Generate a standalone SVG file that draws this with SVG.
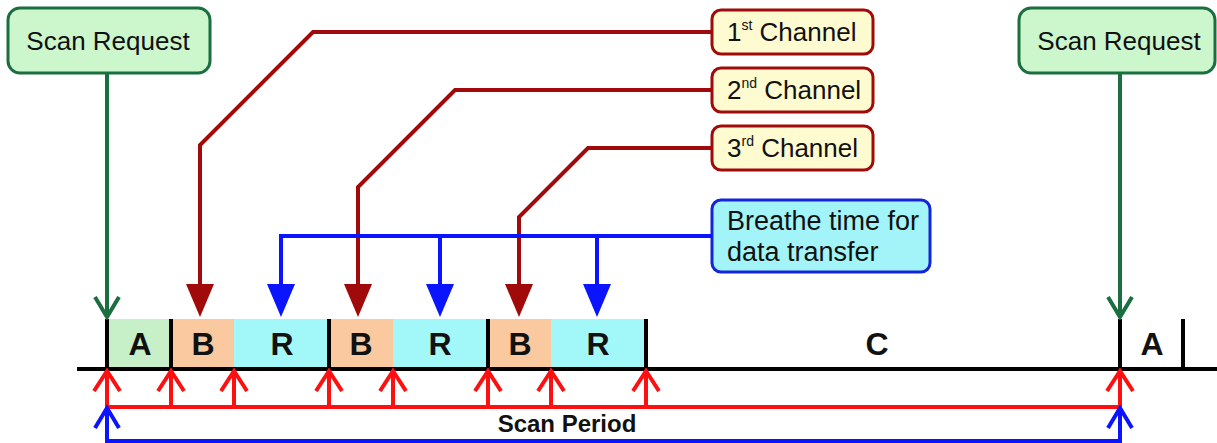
<svg xmlns="http://www.w3.org/2000/svg" width="1217" height="443" viewBox="0 0 1217 443">
<style>
text{font-family:"Liberation Sans",Arial,sans-serif;fill:#111}
.req rect{fill:#ccf6cc;stroke:#1b6e3f;stroke-width:3}
.ch rect{fill:#fefbd0;stroke:#a00a0a;stroke-width:3}
.br rect{fill:#a2f4f8;stroke:#1424d8;stroke-width:3}
.lbl{font-size:26px}
.seg{font-size:32px;font-weight:bold;text-anchor:middle}
.div{stroke:#000;stroke-width:4}
.cred{fill:none;stroke:#a00a0a;stroke-width:4}
.cblue{fill:none;stroke:#0a14ff;stroke-width:4}
.cgreen{fill:none;stroke:#1b6e3f;stroke-width:4}
.sred{fill:none;stroke:#ff1010;stroke-width:4}
.sblue{fill:none;stroke:#0a14ff;stroke-width:4}
</style>
<defs>
<marker id="triRed" markerUnits="userSpaceOnUse" viewBox="0 0 33 28" markerWidth="33" markerHeight="28" refX="21" refY="14" orient="auto"><path d="M0,0 L33,14 L0,28 z" fill="#a00a0a"/></marker>
<marker id="triBlue" markerUnits="userSpaceOnUse" viewBox="0 0 33 28" markerWidth="33" markerHeight="28" refX="21" refY="14" orient="auto"><path d="M0,0 L33,14 L0,28 z" fill="#0a14ff"/></marker>
<marker id="chGreen" markerUnits="userSpaceOnUse" viewBox="0 0 24 28" markerWidth="24" markerHeight="28" refX="21" refY="14" orient="auto"><path d="M1,2 L21,14 L1,26" fill="none" stroke="#1b6e3f" stroke-width="4"/></marker>
<marker id="chRed" markerUnits="userSpaceOnUse" viewBox="0 0 24 30" markerWidth="24" markerHeight="30" refX="21" refY="15" orient="auto"><path d="M1,2 L21,15 L1,28" fill="none" stroke="#ff1010" stroke-width="4"/></marker>
<marker id="chBlue" markerUnits="userSpaceOnUse" viewBox="0 0 24 28" markerWidth="24" markerHeight="28" refX="21" refY="14" orient="auto"><path d="M1,2 L21,14 L1,26" fill="none" stroke="#0a14ff" stroke-width="4"/></marker>
</defs>
<rect width="1217" height="443" fill="#fff"/>

<g id="timeline">
<rect x="107" y="319" width="64" height="49" fill="#c8f0c8"/>
<rect x="171" y="319" width="63" height="49" fill="#fbc99f"/>
<rect x="234" y="319" width="95" height="49" fill="#a2f8f8"/>
<rect x="329" y="319" width="64" height="49" fill="#fbc99f"/>
<rect x="393" y="319" width="95" height="49" fill="#a2f8f8"/>
<rect x="488" y="319" width="63" height="49" fill="#fbc99f"/>
<rect x="551" y="319" width="95" height="49" fill="#a2f8f8"/>
<line x1="77" y1="369" x2="1217" y2="369" class="div"/>
<line x1="107" y1="319" x2="107" y2="369" class="div"/>
<line x1="171" y1="319" x2="171" y2="369" class="div"/>
<line x1="329" y1="319" x2="329" y2="369" class="div"/>
<line x1="488" y1="319" x2="488" y2="369" class="div"/>
<line x1="646" y1="319" x2="646" y2="369" class="div"/>
<line x1="1120" y1="319" x2="1120" y2="369" class="div"/>
<line x1="1183" y1="319" x2="1183" y2="369" class="div"/>
<text class="seg" x="140" y="355">A</text>
<text class="seg" x="203" y="355">B</text>
<text class="seg" x="282" y="355">R</text>
<text class="seg" x="361" y="355">B</text>
<text class="seg" x="440" y="355">R</text>
<text class="seg" x="520" y="355">B</text>
<text class="seg" x="598" y="355">R</text>
<text class="seg" x="877" y="355">C</text>
<text class="seg" x="1152" y="355">A</text>
</g>

<g id="scanRequest1" class="req">
<rect x="8" y="8" width="202" height="65" rx="12"/>
<text class="lbl" x="108" y="50" text-anchor="middle">Scan Request</text>
</g>
<g id="scanRequest2" class="req">
<rect x="1019" y="8" width="196" height="65" rx="12"/>
<text class="lbl" x="1119" y="50" text-anchor="middle">Scan Request</text>
</g>
<g id="channel1" class="ch">
<rect x="712" y="10" width="161" height="44" rx="9"/>
<text class="lbl" x="727" y="41">1<tspan font-size="14" dy="-11">st</tspan><tspan dy="11"> Channel</tspan></text>
</g>
<g id="channel2" class="ch">
<rect x="712" y="68" width="161" height="44" rx="9"/>
<text class="lbl" x="727" y="99">2<tspan font-size="14" dy="-11">nd</tspan><tspan dy="11"> Channel</tspan></text>
</g>
<g id="channel3" class="ch">
<rect x="712" y="126" width="161" height="44" rx="9"/>
<text class="lbl" x="727" y="157">3<tspan font-size="14" dy="-11">rd</tspan><tspan dy="11"> Channel</tspan></text>
</g>
<g id="breathe" class="br">
<rect x="712" y="200" width="218" height="72" rx="9"/>
<text x="727" y="230" font-size="27">Breathe time for</text>
<text x="727" y="261" font-size="27">data transfer</text>
</g>
<g id="scanPeriodLabel">
<text x="567" y="432" font-size="24" font-weight="bold" text-anchor="middle">Scan Period</text>
</g>

<g id="connectors">
<path class="cgreen" d="M107,73 V317" marker-end="url(#chGreen)"/>
<path class="cgreen" d="M1120,73 V317" marker-end="url(#chGreen)"/>
<path class="cred" d="M712,32 H313 L200,145 V305" marker-end="url(#triRed)"/>
<path class="cred" d="M712,90 H455 L358,187 V305" marker-end="url(#triRed)"/>
<path class="cred" d="M712,148 H588 L519,217 V305" marker-end="url(#triRed)"/>
<path class="cblue" d="M712,236 H281 V305" marker-end="url(#triBlue)"/>
<path class="cblue" d="M440,236 V305" marker-end="url(#triBlue)"/>
<path class="cblue" d="M597,236 V305" marker-end="url(#triBlue)"/>
<path class="sred" d="M105,407 H1122"/>
<path class="sred" d="M107,407 V371" marker-end="url(#chRed)"/>
<path class="sred" d="M171,407 V371" marker-end="url(#chRed)"/>
<path class="sred" d="M234,407 V371" marker-end="url(#chRed)"/>
<path class="sred" d="M329,407 V371" marker-end="url(#chRed)"/>
<path class="sred" d="M393,407 V371" marker-end="url(#chRed)"/>
<path class="sred" d="M488,407 V371" marker-end="url(#chRed)"/>
<path class="sred" d="M551,407 V371" marker-end="url(#chRed)"/>
<path class="sred" d="M646,407 V371" marker-end="url(#chRed)"/>
<path class="sred" d="M1120,407 V371" marker-end="url(#chRed)"/>
<path class="sblue" d="M105,441 H1122"/>
<path class="sblue" d="M107,441 V408" marker-end="url(#chBlue)"/>
<path class="sblue" d="M1120,441 V408" marker-end="url(#chBlue)"/>
</g>
</svg>
